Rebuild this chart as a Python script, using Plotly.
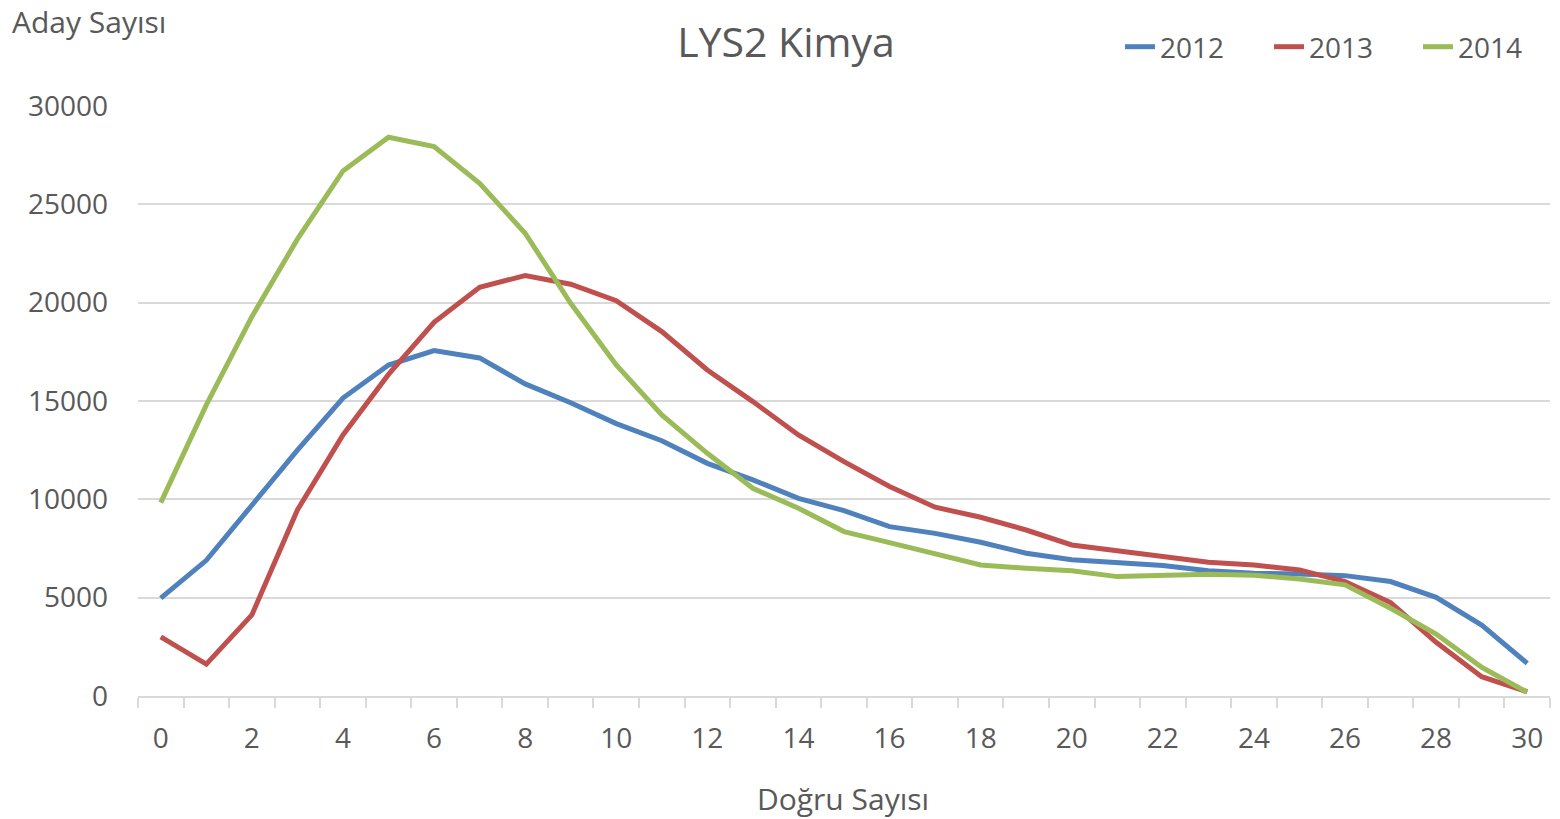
import plotly.graph_objects as go

dogru = list(range(0, 31))
y2012 = [4980, 6900, 9700, 12500, 15150, 16830, 17560, 17190, 15870, 14910, 13850,
         12980, 11830, 10990, 10050, 9430, 8610, 8270, 7820, 7260, 6930, 6750, 6630,
         6370, 6240, 6200, 6120, 5820, 5020, 3610, 1660]
y2013 = [3010, 1620, 4120, 9460, 13270, 16350, 19000, 20780, 21380, 20940, 20100,
         18530, 16580, 14970, 13270, 11920, 10650, 9600, 9090, 8440, 7680, 7380, 7120,
         6800, 6660, 6410, 5820, 4750, 2730, 980, 220]
y2014 = [9830, 14800, 19290, 23230, 26700, 28410, 27940, 26070, 23530, 19970, 16830,
         14290, 12340, 10560, 9550, 8360, 7800, 7220, 6660, 6490, 6370, 6070, 6120,
         6190, 6140, 5950, 5650, 4460, 3150, 1460, 190]
series = [("2012", y2012, "#4F81BD"), ("2013", y2013, "#C0504D"), ("2014", y2014, "#9BBB59")]
xtick_vals = list(range(0, 31, 2))
ytick_vals = [0, 5000, 10000, 15000, 20000, 25000, 30000]

FONT = "Open Sans"
GREY = "#595959"

fig = go.Figure()
for name, ys, col in series:
    fig.add_trace(go.Scatter(x=dogru, y=ys, mode="lines", name=name,
                             line=dict(color=col, width=5)))

fig.update_layout(
    width=1560, height=819,
    margin=dict(l=138, r=10, t=106, b=123, autoexpand=False),
    paper_bgcolor="white", plot_bgcolor="white",
    font=dict(family=FONT, color=GREY, size=28),
    title=dict(text="LYS2 Kimya", x=786 / 1560, xanchor="center", y=0.948,
               yanchor="middle", font=dict(size=41, color=GREY, family=FONT)),
    showlegend=True,
    legend=dict(orientation="h", x=(1120 - 138) / 1412, xanchor="left",
                y=(696 - 47) / 590, yanchor="middle",
                font=dict(size=28, color=GREY), entrywidth=104, entrywidthmode="pixels",
                bgcolor="rgba(0,0,0,0)"),
    xaxis=dict(range=[-0.5, 30.5], tickmode="array", tickvals=xtick_vals,
               ticktext=[str(v) for v in xtick_vals], ticks="", showgrid=False,
               zeroline=False, showline=True, linecolor="#d9d9d9", linewidth=1.5,
               ticklabelstandoff=17,
               tickfont=dict(size=28, color=GREY),
               minor=dict(tick0=-0.5, dtick=1, ticks="outside", ticklen=10,
                          tickcolor="#d9d9d9", tickwidth=1.5, showgrid=False)),
    yaxis=dict(range=[0, 30000], tickmode="array", tickvals=ytick_vals,
               ticktext=[str(v) for v in ytick_vals], ticks="", showgrid=True,
               gridcolor="#d9d9d9", gridwidth=1.5, zeroline=False, showline=False,
               ticklabelstandoff=29, tickfont=dict(size=28, color=GREY)),
    annotations=[
        dict(text="Aday Sayısı", xref="paper", yref="paper", x=(10 - 138) / 1412,
             y=(696 - 21.5) / 590, xanchor="left", yanchor="middle", showarrow=False,
             font=dict(size=30, color=GREY, family=FONT)),
        dict(text="Doğru Sayısı", xref="paper", yref="paper", x=(843 - 138) / 1412,
             y=(696 - 798) / 590, xanchor="center", yanchor="middle", showarrow=False,
             font=dict(size=30, color=GREY, family=FONT)),
    ],
)

fig.write_html("out.html", config={"displayModeBar": False},
               post_script="document.body.style.margin='0px';")
